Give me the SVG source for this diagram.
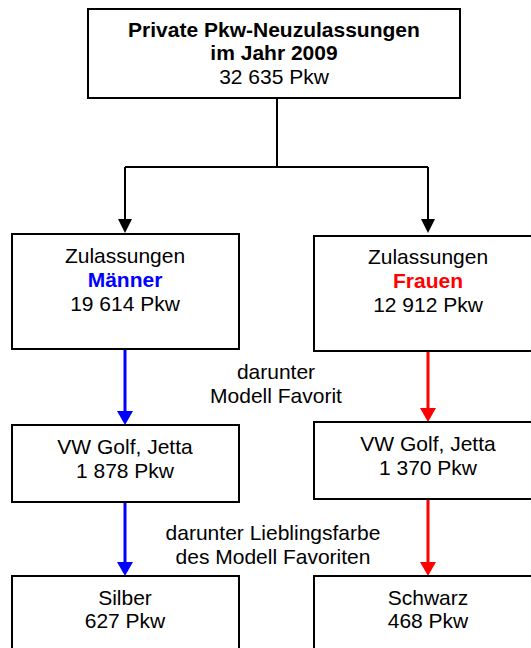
<svg xmlns="http://www.w3.org/2000/svg" width="531" height="648" viewBox="0 0 531 648">
<style>
.box{fill:#fff;stroke:#000;stroke-width:2}
text{font-family:"Liberation Sans",Arial,sans-serif;font-size:21px;fill:#000;text-anchor:middle}
.b{font-weight:bold}
.k{stroke:#000;stroke-width:2;fill:none}
.bl{stroke:#0000ff;stroke-width:3;fill:none}
.rd{stroke:#ff0000;stroke-width:3;fill:none}
</style>
<defs>
<marker id="ak" markerUnits="userSpaceOnUse" markerWidth="14" markerHeight="14" refX="10" refY="7" orient="auto" viewBox="0 0 14 14"><path d="M0,0 L14,7 L0,14 Z" fill="#000"/></marker>
<marker id="ab" markerUnits="userSpaceOnUse" markerWidth="14" markerHeight="16" refX="10" refY="8" orient="auto" viewBox="0 0 14 16"><path d="M0,0 L14,8 L0,16 Z" fill="#0000ff"/></marker>
<marker id="ar" markerUnits="userSpaceOnUse" markerWidth="14" markerHeight="16" refX="10" refY="8" orient="auto" viewBox="0 0 14 16"><path d="M0,0 L14,8 L0,16 Z" fill="#ff0000"/></marker>
</defs>
<rect width="531" height="648" fill="#fff"/>
<g id="connectors">
<path class="k" d="M277,98 V167 M125,167 H428"/>
<path class="k" d="M125,167 V229" marker-end="url(#ak)"/>
<path class="k" d="M428,167 V229" marker-end="url(#ak)"/>
<path class="bl" d="M125,349 V421" marker-end="url(#ab)"/>
<path class="bl" d="M125,502 V572" marker-end="url(#ab)"/>
<path class="rd" d="M428,351 V418" marker-end="url(#ar)"/>
<path class="rd" d="M428,499 V572" marker-end="url(#ar)"/>
</g>
<g id="top">
<rect class="box" x="88" y="9" width="372" height="89"/>
<text class="b" x="274" y="37">Private Pkw-Neuzulassungen</text>
<text class="b" x="274" y="60">im Jahr 2009</text>
<text x="274" y="84">32 635 Pkw</text>
</g>
<g id="maenner">
<rect class="box" x="12" y="234" width="227" height="115"/>
<text x="125" y="263">Zulassungen</text>
<text class="b" x="125" y="287" style="fill:#0000ff">Männer</text>
<text x="125" y="311">19 614 Pkw</text>
</g>
<g id="frauen">
<rect class="box" x="314" y="236" width="230" height="115"/>
<text x="428" y="264">Zulassungen</text>
<text class="b" x="428" y="288" style="fill:#ff0000">Frauen</text>
<text x="428" y="312">12 912 Pkw</text>
</g>
<g id="label1">
<text x="276" y="379">darunter</text>
<text x="276" y="403">Modell Favorit</text>
</g>
<g id="golf-m">
<rect class="box" x="12" y="425" width="227" height="77"/>
<text x="125" y="454">VW Golf, Jetta</text>
<text x="125" y="478">1 878 Pkw</text>
</g>
<g id="golf-f">
<rect class="box" x="314" y="422" width="230" height="77"/>
<text x="428" y="451">VW Golf, Jetta</text>
<text x="428" y="475">1 370 Pkw</text>
</g>
<g id="label2">
<text x="273" y="540">darunter Lieblingsfarbe</text>
<text x="273" y="564">des Modell Favoriten</text>
</g>
<g id="silber">
<rect class="box" x="12" y="576" width="227" height="90"/>
<text x="125" y="605">Silber</text>
<text x="125" y="628">627 Pkw</text>
</g>
<g id="schwarz">
<rect class="box" x="314" y="576" width="230" height="90"/>
<text x="428" y="605">Schwarz</text>
<text x="428" y="628">468 Pkw</text>
</g>
</svg>
